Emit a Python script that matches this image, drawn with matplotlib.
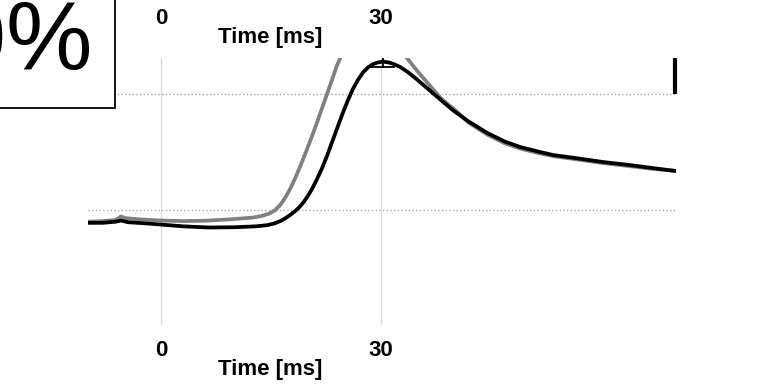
import matplotlib.pyplot as plt
from matplotlib.patches import Rectangle

plt.rcParams['font.family'] = ['Liberation Sans', 'DejaVu Sans']

# averaged traces, time in ms, amplitude normalised to the reference levels
t_black = [-10, -8, -6.2, -5.5, -4.5, -2, 0, 3, 6.5, 10, 13, 14.5, 15.5, 16.3,
           17.0, 17.7, 18.3, 18.9, 19.5, 20.1, 20.7, 21.3, 22.0, 22.7, 23.4,
           24.1, 24.8, 25.5, 26.2, 26.9, 27.6, 28.3, 29.0, 29.7, 30.4, 31.1,
           31.8, 32.7, 33.7, 34.8, 36.0, 37.2, 38.5, 40.0, 42.0, 44.6, 47.0,
           49.1, 51.5, 53.6, 57.0, 60.4, 63.8, 67.2, 70.4]
v_black = [-0.11, -0.11, -0.10, -0.09, -0.105, -0.115, -0.125, -0.14, -0.15,
           -0.148, -0.14, -0.13, -0.115, -0.095, -0.07, -0.04, -0.01, 0.025,
           0.07, 0.125, 0.19, 0.265, 0.36, 0.47, 0.59, 0.71, 0.83, 0.94, 1.04,
           1.12, 1.185, 1.23, 1.258, 1.273, 1.278, 1.272, 1.258, 1.232, 1.19,
           1.135, 1.07, 1.005, 0.935, 0.855, 0.765, 0.664, 0.59, 0.543, 0.505,
           0.474, 0.445, 0.414, 0.39, 0.362, 0.336]

t_gray = [-10, -8, -6.2, -5.5, -4.8, -3, 0, 3, 6, 9.4, 12.5, 13.8, 14.8, 15.6,
          16.3, 17.0, 17.7, 18.4, 19.1, 19.8, 20.5, 21.2, 21.9, 22.6, 23.3,
          24.0, 25.5, 27.5, 29.5, 31.5, 33.6, 35.0, 36.5, 38.3, 40.5, 42.0,
          44.6, 47.0, 49.1, 51.5, 53.6, 57.0, 60.4, 63.8, 67.2, 70.4]
v_gray = [-0.10, -0.095, -0.085, -0.055, -0.07, -0.08, -0.09, -0.095, -0.092,
          -0.08, -0.065, -0.05, -0.03, 0.0, 0.045, 0.11, 0.19, 0.285, 0.39,
          0.5, 0.615, 0.735, 0.86, 0.985, 1.11, 1.24, 1.45, 1.6, 1.64, 1.55,
          1.31, 1.2, 1.09, 0.96, 0.845, 0.755, 0.65, 0.575, 0.53, 0.492,
          0.465, 0.435, 0.405, 0.38, 0.355, 0.338]

tick_ms = [0, 30]
tick_labels = ['0', '30']
ref_levels = [0, 1]

peak_t = 30.3
peak_sd = 1.5
peak_y = 1.233

scale_t = 70.25
scale_lo, scale_hi = 1.0, 1.31

box_label = '100%'

W, H = 769, 390
fig = plt.figure(figsize=(W / 100, H / 100), dpi=100)


def px_axes(x0, y0, x1, y1):
    # pixel box (y measured from the top) -> figure fraction rect
    return [x0 / W, 1 - y1 / H, (x1 - x0) / W, (y1 - y0) / H]


def style_time_axis(a):
    a.set_xlim(-10, 70.4)
    a.set_xticks(tick_ms, tick_labels, fontsize=16, fontweight='bold')
    a.tick_params(axis='x', length=0, pad=11)
    a.set_yticks([])
    for s in a.spines.values():
        s.set_visible(False)
    a.set_xlabel('Time [ms]', fontsize=16, fontweight='bold')
    a.xaxis.set_label_coords((270 - 88) / 588, -34 / 267)
    a.patch.set_alpha(0)


# panel above (only its time axis shows at the top edge)
ax_top = fig.add_axes(px_axes(88, -274, 676, -7))
style_time_axis(ax_top)

ax = fig.add_axes(px_axes(88, 58, 676, 325))
style_time_axis(ax)
ax.set_ylim(-0.99, 1.31)

for t in tick_ms:
    ax.axvline(t, color='#dcdcdc', lw=1, zorder=0)
for lv in ref_levels:
    ax.axhline(lv, color='#a8a8a8', lw=1, ls=':', zorder=1)

ax.plot(t_gray, v_gray, color='#808080', lw=2.7, zorder=2, solid_joinstyle='round')
ax.plot(t_black, v_black, color='black', lw=2.7, zorder=3, solid_joinstyle='round')

# peak time marker
ax.plot([peak_t - peak_sd, peak_t + peak_sd], [peak_y, peak_y], color='black', lw=1.3, zorder=4)
ax.plot([peak_t, peak_t], [peak_y, 1.4], color='black', lw=1.3, zorder=4)

# amplitude scale bar
ax.plot([scale_t, scale_t], [scale_lo, scale_hi], color='black', lw=3,
        solid_capstyle='butt', clip_on=False, zorder=4)

box = Rectangle((-0.05, 1 - 108 / H), 115.5 / W + 0.05, 0.5, transform=fig.transFigure,
                facecolor='white', edgecolor='black', lw=1.3, zorder=5)
fig.add_artist(box)
fig.text(93 / W, 1 - 69 / H, box_label, ha='right', va='baseline', fontsize=70, zorder=6)

fig.savefig('out.png', dpi=100)
